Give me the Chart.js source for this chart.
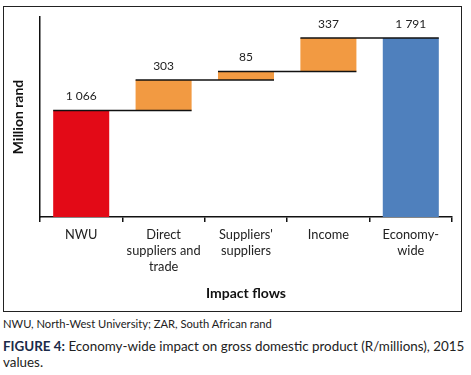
<!DOCTYPE html>
<html>
<head>
<meta charset="utf-8">
<script src="https://cdn.jsdelivr.net/npm/chart.js@4.4.1/dist/chart.umd.min.js"></script>
<style>
  body { margin: 0; background: #fff; font-family: Lato, "Open Sans", sans-serif; }
  .box { position: absolute; left: 3px; top: 6px; width: 457px; height: 304px; border: 1px solid #222; }
  .note { position: absolute; left: 3px; top: 317px; font-size: 11.2px; color: #222; }
  .caption { position: absolute; left: 3px; top: 338px; width: 468px; font-size: 13.4px; line-height: 16px; color: #222; }
  .caption b { color: #1b2a49; }
</style>
</head>
<body>
<div class="box"><canvas id="chart" width="457" height="304"></canvas></div>
<div class="note">NWU, North-West University; ZAR, South African rand</div>
<div class="caption"><b>FIGURE 4:</b> Economy-wide impact on gross domestic product (R/millions), 2015 values.</div>
<script>
document.addEventListener('DOMContentLoaded', () => {
    "use strict";

    // Chart data
    var categories = [['NWU'], ['Direct', 'suppliers and', 'trade'], ['Suppliers\'', 'suppliers'], ['Income'], ['Economy-', 'wide']];
    var values = [1066, 303, 85, 337, 1791];
    var isTotal = [false, false, false, false, true];
    var barColors = ['#e30a17', '#f29a42', '#f29a42', '#f29a42', '#4f80bd'];

    // Build floating ranges for the waterfall
    var ranges = [];
    var running = 0;
    values.forEach(function(v, i) {
        if (i === 0 || isTotal[i]) {
            ranges.push([0, v]);
            running = v;
        } else {
            ranges.push([running, running + v]);
            running += v;
        }
    });

    function fmt(v) {
        return String(v).replace(/\B(?=(\d{3})+(?!\d))/g, ' ');
    }

    // Connector lines and value labels
    var waterfallPlugin = {
        id: 'waterfall',
        afterDatasetsDraw: function(chart) {
            var ctx = chart.ctx;
            var bars = chart.getDatasetMeta(0).data;
            ctx.save();
            ctx.strokeStyle = '#111';
            ctx.lineWidth = 1.5;
            for (var i = 0; i < bars.length - 1; i++) {
                var a = bars[i], b = bars[i + 1];
                ctx.beginPath();
                ctx.moveTo(a.x - a.width / 2, a.y);
                ctx.lineTo(b.x + b.width / 2, a.y);
                ctx.stroke();
            }
            ctx.fillStyle = '#222';
            ctx.font = '12px Lato';
            ctx.textAlign = 'center';
            ctx.textBaseline = 'middle';
            bars.forEach(function(bar, i) {
                ctx.fillText(fmt(values[i]), bar.x, bar.y - 14);
            });
            ctx.restore();
        }
    };

    var ctx = document.getElementById('chart').getContext('2d');
    new Chart(ctx, {
        type: 'bar',
        data: {
            labels: categories,
            datasets: [{
                data: ranges,
                backgroundColor: barColors,
                borderWidth: 0,
                barPercentage: 0.68,
                categoryPercentage: 1
            }]
        },
        options: {
            responsive: false,
            animation: false,
            layout: { padding: { top: 10, right: 9, left: 0, bottom: 0 } },
            plugins: { legend: { display: false }, tooltip: { enabled: false } },
            scales: {
                x: {
                    afterFit: function(scale) { scale.height = 94; },
                    grid: { display: true, drawOnChartArea: false, offset: true, tickLength: 5, color: '#111', lineWidth: 1.5 },
                    border: { display: true, color: '#111', width: 1.5 },
                    ticks: { color: '#222', font: { family: 'Lato', size: 12.8, lineHeight: 1.25 }, padding: 5, maxRotation: 0, autoSkip: false },
                    title: { display: true, text: 'Impact flows', color: '#111', font: { family: 'Lato', size: 14, weight: 'bold' }, padding: { top: 0, bottom: 9 } }
                },
                y: {
                    min: 0,
                    max: 2000,
                    afterFit: function(scale) { scale.width = 36; },
                    grid: { display: false },
                    border: { display: true, color: '#111', width: 1.5 },
                    ticks: { display: false },
                    title: { display: true, text: 'Million rand', color: '#111', font: { family: 'Lato', size: 14, weight: 'bold' }, padding: { top: 6, bottom: 0 } }
                }
            }
        },
        plugins: [waterfallPlugin]
    });
});
</script>
</body>
</html>
